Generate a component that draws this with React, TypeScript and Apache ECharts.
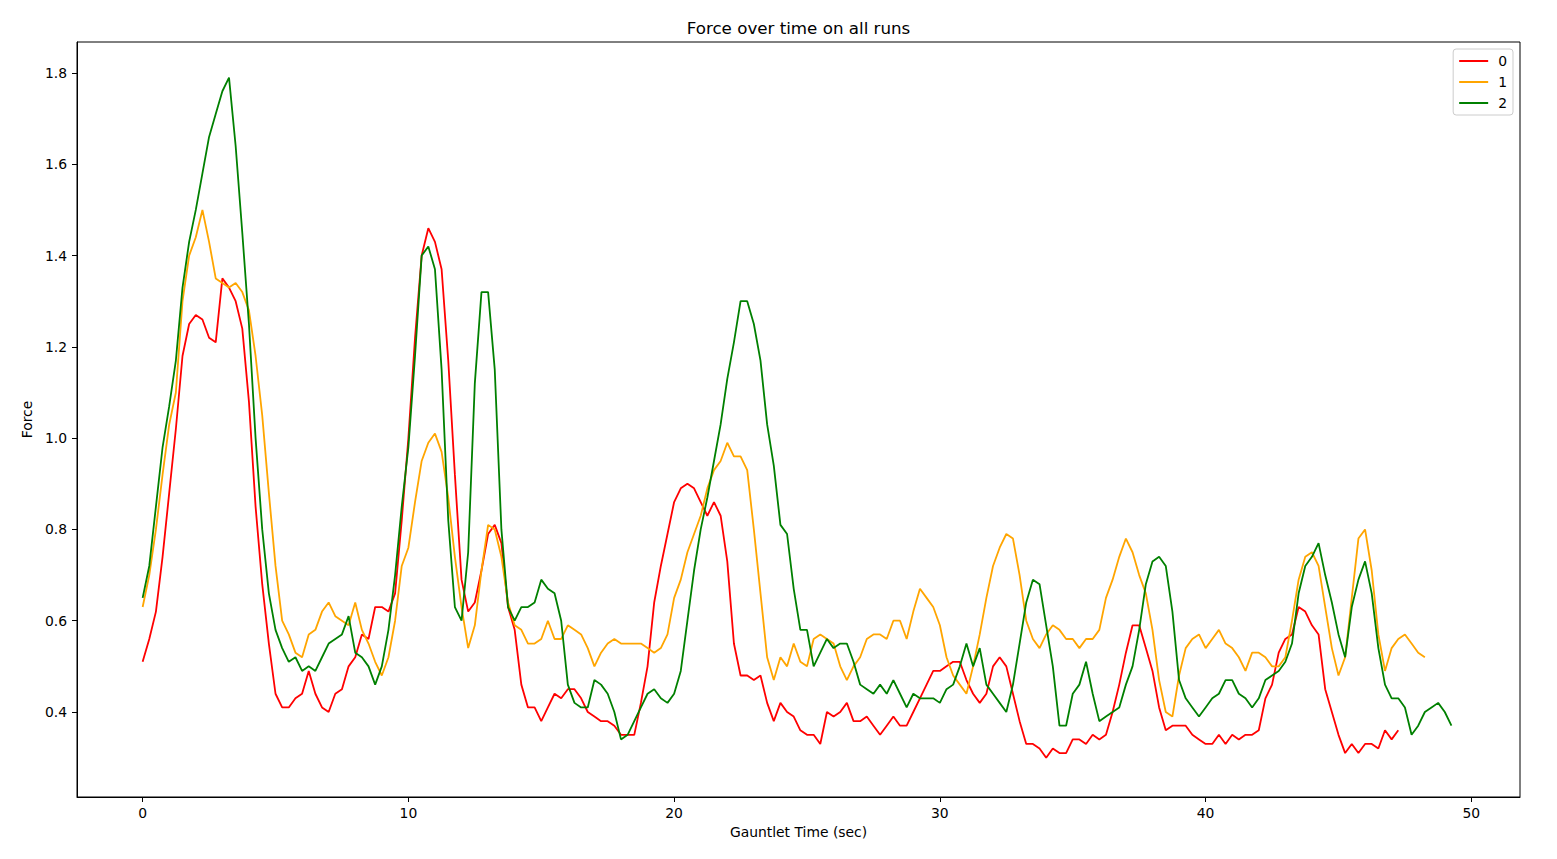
import React, { useEffect, useRef } from "react";
import * as echarts from "echarts";

const TITLE = "Force over time on all runs";
const X_LABEL = "Gauntlet Time (sec)";
const Y_LABEL = "Force";
const SERIES_NAMES = ["0", "1", "2"];
const SERIES_COLORS = ["#ff0000", "#ffa500", "#008000"];
const TIME_STEP = 0.25; // seconds between samples

// run 0 (red), samples from t = 0 every 0.25 s
const run0 = [
  0.51, 0.56, 0.62, 0.74, 0.88, 1.02, 1.18, 1.25, 1.27, 1.26, 1.22, 1.21, 1.35, 1.33, 1.30, 1.24,
  1.08, 0.85, 0.68, 0.55, 0.44, 0.41, 0.41, 0.43, 0.44, 0.49, 0.44, 0.41, 0.40, 0.44, 0.45, 0.50,
  0.52, 0.57, 0.56, 0.63, 0.63, 0.62, 0.66, 0.82, 1.00, 1.22, 1.40, 1.46, 1.43, 1.37, 1.17, 0.92,
  0.69, 0.62, 0.64, 0.71, 0.79, 0.81, 0.77, 0.63, 0.58, 0.46, 0.41, 0.41, 0.38, 0.41, 0.44, 0.43,
  0.45, 0.45, 0.43, 0.40, 0.39, 0.38, 0.38, 0.37, 0.35, 0.35, 0.35, 0.42, 0.50, 0.64, 0.72, 0.79,
  0.86, 0.89, 0.90, 0.89, 0.86, 0.83, 0.86, 0.83, 0.73, 0.55, 0.48, 0.48, 0.47, 0.48, 0.42, 0.38,
  0.42, 0.40, 0.39, 0.36, 0.35, 0.35, 0.33, 0.40, 0.39, 0.40, 0.42, 0.38, 0.38, 0.39, 0.37, 0.35,
  0.37, 0.39, 0.37, 0.37, 0.40, 0.43, 0.46, 0.49, 0.49, 0.50, 0.51, 0.51, 0.47, 0.44, 0.42, 0.44,
  0.50, 0.52, 0.50, 0.44, 0.38, 0.33, 0.33, 0.32, 0.30, 0.32, 0.31, 0.31, 0.34, 0.34, 0.33, 0.35,
  0.34, 0.35, 0.40, 0.46, 0.53, 0.59, 0.59, 0.54, 0.49, 0.41, 0.36, 0.37, 0.37, 0.37, 0.35, 0.34,
  0.33, 0.33, 0.35, 0.33, 0.35, 0.34, 0.35, 0.35, 0.36, 0.43, 0.46, 0.53, 0.56, 0.57, 0.63, 0.62,
  0.59, 0.57, 0.45, 0.40, 0.35, 0.31, 0.33, 0.31, 0.33, 0.33, 0.32, 0.36, 0.34, 0.36,
];

// run 1 (orange)
const run1 = [
  0.63, 0.70, 0.80, 0.92, 1.03, 1.10, 1.30, 1.40, 1.44, 1.50, 1.43, 1.35, 1.34, 1.33, 1.34, 1.32,
  1.28, 1.18, 1.05, 0.88, 0.72, 0.60, 0.57, 0.53, 0.52, 0.57, 0.58, 0.62, 0.64, 0.61, 0.60, 0.59,
  0.64, 0.58, 0.55, 0.51, 0.48, 0.52, 0.60, 0.72, 0.76, 0.86, 0.95, 0.99, 1.01, 0.97, 0.87, 0.74,
  0.63, 0.54, 0.59, 0.71, 0.81, 0.80, 0.74, 0.64, 0.59, 0.58, 0.55, 0.55, 0.56, 0.60, 0.56, 0.56,
  0.59, 0.58, 0.57, 0.54, 0.50, 0.53, 0.55, 0.56, 0.55, 0.55, 0.55, 0.55, 0.54, 0.53, 0.54, 0.57,
  0.65, 0.69, 0.75, 0.79, 0.83, 0.89, 0.93, 0.95, 0.99, 0.96, 0.96, 0.93, 0.80, 0.66, 0.52, 0.47,
  0.52, 0.50, 0.55, 0.51, 0.50, 0.56, 0.57, 0.56, 0.55, 0.50, 0.47, 0.50, 0.52, 0.56, 0.57, 0.57,
  0.56, 0.60, 0.60, 0.56, 0.62, 0.67, 0.65, 0.63, 0.59, 0.52, 0.48, 0.46, 0.44, 0.50, 0.57, 0.65,
  0.72, 0.76, 0.79, 0.78, 0.70, 0.60, 0.56, 0.54, 0.57, 0.59, 0.58, 0.56, 0.56, 0.54, 0.56, 0.56,
  0.58, 0.65, 0.69, 0.74, 0.78, 0.75, 0.70, 0.66, 0.58, 0.47, 0.40, 0.39, 0.48, 0.54, 0.56, 0.57,
  0.54, 0.56, 0.58, 0.55, 0.54, 0.52, 0.49, 0.53, 0.53, 0.52, 0.50, 0.50, 0.52, 0.60, 0.69, 0.74,
  0.75, 0.72, 0.63, 0.54, 0.48, 0.52, 0.65, 0.78, 0.80, 0.71, 0.57, 0.49, 0.54, 0.56, 0.57, 0.55,
  0.53, 0.52,
];

// run 2 (green)
const run2 = [
  0.65, 0.72, 0.85, 0.98, 1.07, 1.17, 1.33, 1.43, 1.50, 1.58, 1.66, 1.71, 1.76, 1.79, 1.64, 1.45,
  1.25, 1.00, 0.80, 0.66, 0.58, 0.54, 0.51, 0.52, 0.49, 0.50, 0.49, 0.52, 0.55, 0.56, 0.57, 0.61,
  0.53, 0.52, 0.50, 0.46, 0.50, 0.58, 0.70, 0.85, 0.98, 1.18, 1.40, 1.42, 1.37, 1.15, 0.82, 0.63,
  0.60, 0.75, 1.12, 1.32, 1.32, 1.15, 0.80, 0.63, 0.60, 0.63, 0.63, 0.64, 0.69, 0.67, 0.66, 0.60,
  0.46, 0.42, 0.41, 0.41, 0.47, 0.46, 0.44, 0.40, 0.34, 0.35, 0.38, 0.41, 0.44, 0.45, 0.43, 0.42,
  0.44, 0.49, 0.60, 0.71, 0.80, 0.87, 0.95, 1.03, 1.13, 1.21, 1.30, 1.30, 1.25, 1.17, 1.03, 0.94,
  0.81, 0.79, 0.67, 0.58, 0.58, 0.50, 0.53, 0.56, 0.54, 0.55, 0.55, 0.51, 0.46, 0.45, 0.44, 0.46,
  0.44, 0.47, 0.44, 0.41, 0.44, 0.43, 0.43, 0.43, 0.42, 0.45, 0.46, 0.50, 0.55, 0.50, 0.54, 0.46,
  0.44, 0.42, 0.40, 0.46, 0.55, 0.64, 0.69, 0.68, 0.59, 0.50, 0.37, 0.37, 0.44, 0.46, 0.51, 0.44,
  0.38, 0.39, 0.40, 0.41, 0.46, 0.50, 0.58, 0.68, 0.73, 0.74, 0.72, 0.62, 0.47, 0.43, 0.41, 0.39,
  0.41, 0.43, 0.44, 0.47, 0.47, 0.44, 0.43, 0.41, 0.43, 0.47, 0.48, 0.49, 0.51, 0.55, 0.66, 0.72,
  0.74, 0.77, 0.70, 0.64, 0.57, 0.52, 0.63, 0.69, 0.73, 0.66, 0.54, 0.46, 0.43, 0.43, 0.41, 0.35,
  0.37, 0.40, 0.41, 0.42, 0.40, 0.37,
];

const RUNS = [run0, run1, run2];

const FONT = "DejaVu Sans";

export default function App() {
  const ref = useRef<HTMLDivElement>(null);

  useEffect(() => {
    if (!ref.current) return;
    const chart = echarts.init(ref.current, undefined, { renderer: "svg" });

    const series = RUNS.map((vals, k) => ({
      name: SERIES_NAMES[k],
      type: "line",
      data: vals.map((v, i) => [i * TIME_STEP, v]),
      showSymbol: false,
      symbol: "none",
      color: SERIES_COLORS[k],
      lineStyle: { width: 1.8, color: SERIES_COLORS[k] },
      emphasis: { disabled: true },
      silent: true,
    }));

    const axisCommon = {
      axisLine: { show: true, onZero: false, lineStyle: { color: "#000", width: 1 } },
      axisTick: { show: true, inside: false, length: 5, lineStyle: { color: "#000", width: 1 } },
      splitLine: { show: false },
    };

    chart.setOption({
      animation: false,
      backgroundColor: "#fff",
      textStyle: { fontFamily: FONT },
      grid: {
        left: 77,
        right: 37,
        top: 42,
        bottom: 62,
        show: true,
        borderColor: "#000",
        borderWidth: 1,
        backgroundColor: "transparent",
        containLabel: false,
        outerBoundsMode: "none",
      },
      graphic: [
        {
          type: "text",
          x: 798.5,
          y: 28,
          style: {
            text: TITLE,
            fontFamily: FONT,
            fontSize: 16.7,
            fill: "#000",
            textAlign: "center",
            textVerticalAlign: "middle",
          },
        },
      ],
      legend: {
        orient: "vertical",
        right: 44,
        top: 49,
        padding: [5, 6, 5, 6],
        itemWidth: 29,
        itemHeight: 2,
        itemGap: 7,
        icon: "rect",
        borderColor: "#cccccc",
        borderWidth: 1,
        borderRadius: 3,
        backgroundColor: "#ffffff",
        data: SERIES_NAMES,
        selectedMode: false,
        textStyle: {
          fontFamily: FONT,
          fontSize: 13.9,
          color: "#000",
          lineHeight: 14,
          padding: [0, 0, 0, 5],
        },
      },
      xAxis: {
        type: "value",
        min: -2.47,
        max: 51.83,
        splitNumber: 5,
        name: X_LABEL,
        nameLocation: "middle",
        nameGap: 28,
        nameTextStyle: { fontFamily: FONT, fontSize: 13.9, color: "#000" },
        axisLabel: {
          showMinLabel: false,
          showMaxLabel: false,
          margin: 9,
          fontFamily: FONT,
          fontSize: 13.9,
          color: "#000",
        },
        ...axisCommon,
      },
      yAxis: {
        type: "value",
        min: 0.2138,
        max: 1.8679,
        splitNumber: 8,
        name: Y_LABEL,
        nameLocation: "middle",
        nameGap: 39,
        nameRotate: 90,
        nameTextStyle: { fontFamily: FONT, fontSize: 13.9, color: "#000" },
        axisLabel: {
          showMinLabel: false,
          showMaxLabel: false,
          margin: 10,
          fontFamily: FONT,
          fontSize: 13.9,
          color: "#000",
          formatter: (v: number) => v.toFixed(1),
        },
        ...axisCommon,
      },
      series,
    });

    return () => chart.dispose();
  }, []);

  return (
    <div
      ref={ref}
      style={{ position: "absolute", left: 0, top: 0, width: 1557, height: 859, background: "#fff" }}
    />
  );
}
